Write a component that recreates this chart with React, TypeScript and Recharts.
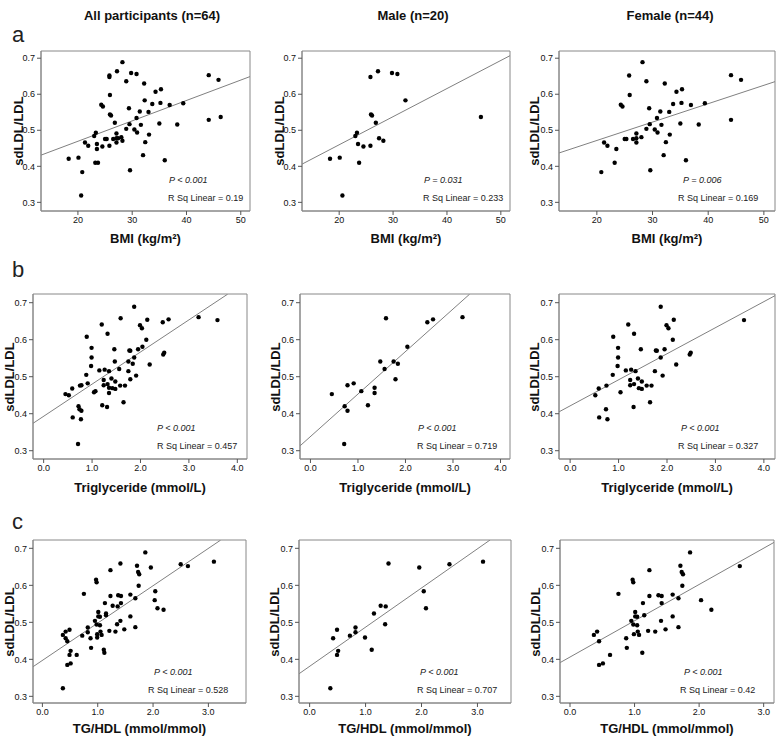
import React from 'react';
import { ScatterChart, Scatter, XAxis, YAxis, ReferenceLine, ReferenceArea } from 'recharts';

type Pt = [number, number];

// sdLDL/LDL against BMI (kg/m2)
const maleBmi: Pt[] = [
  [18.3, 0.421], [20.1, 0.424], [20.6, 0.319], [23.0, 0.484], [23.3, 0.493], [23.5, 0.462], [23.7, 0.41],
  [24.5, 0.455], [25.8, 0.648], [25.9, 0.544], [26.1, 0.541], [25.8, 0.457], [26.8, 0.521], [27.2, 0.664],
  [27.4, 0.478], [28.2, 0.471], [29.8, 0.659], [30.8, 0.656], [32.3, 0.583], [46.3, 0.537],
];
const femaleBmi: Pt[] = [
  [20.8, 0.384], [21.3, 0.466], [21.9, 0.457], [23.5, 0.448], [23.2, 0.41], [24.3, 0.571], [24.6, 0.566],
  [25.0, 0.476], [25.3, 0.476], [26.5, 0.476], [27.1, 0.491], [27.1, 0.478], [27.1, 0.466], [28.0, 0.481],
  [28.9, 0.504], [29.4, 0.561], [29.6, 0.389], [29.5, 0.517], [30.4, 0.502], [30.9, 0.494], [30.8, 0.534],
  [31.4, 0.552], [31.6, 0.515], [32.0, 0.431], [25.8, 0.652], [25.9, 0.598], [28.2, 0.689], [28.9, 0.636],
  [32.2, 0.63], [34.3, 0.607], [35.3, 0.614], [33.7, 0.573], [35.2, 0.576], [36.9, 0.57], [39.4, 0.575],
  [33.0, 0.551], [35.0, 0.519], [38.3, 0.516], [33.1, 0.488], [32.4, 0.467], [36.0, 0.417], [44.1, 0.653],
  [45.9, 0.64], [44.1, 0.529],
];

// sdLDL/LDL against triglyceride (mmol/L)
const maleTg: Pt[] = [
  [0.45, 0.453], [0.72, 0.42], [0.78, 0.477], [0.78, 0.408], [0.91, 0.482], [1.07, 0.461], [1.21, 0.423],
  [1.35, 0.47], [1.35, 0.456], [1.47, 0.541], [1.56, 0.521], [1.59, 0.658], [1.75, 0.541], [1.79, 0.493],
  [1.84, 0.535], [2.04, 0.581], [2.46, 0.647], [2.58, 0.655], [3.2, 0.661], [0.71, 0.318],
];
const femaleTg: Pt[] = [
  [0.52, 0.45], [0.59, 0.468], [0.6, 0.39], [0.74, 0.412], [0.75, 0.476], [0.77, 0.385], [0.88, 0.505],
  [0.89, 0.608], [0.99, 0.578], [0.99, 0.552], [0.98, 0.529], [1.04, 0.458], [1.15, 0.517], [1.2, 0.641],
  [1.24, 0.491], [1.24, 0.477], [1.26, 0.519], [1.32, 0.616], [1.32, 0.48], [1.35, 0.515], [1.4, 0.495],
  [1.42, 0.469], [1.46, 0.574], [1.48, 0.487], [1.48, 0.467], [1.31, 0.418], [1.58, 0.476], [1.65, 0.431],
  [1.68, 0.476], [1.75, 0.515], [1.77, 0.571], [1.79, 0.57], [1.87, 0.552], [1.87, 0.689], [1.91, 0.503],
  [1.95, 0.574], [1.99, 0.639], [2.03, 0.631], [2.12, 0.6], [2.14, 0.654], [2.19, 0.533], [2.47, 0.56],
  [2.49, 0.565], [3.59, 0.653],
];

// sdLDL/LDL against TG/HDL (mmol/mmol)
const maleTgHdl: Pt[] = [
  [3.1, 0.664], [1.41, 0.659], [1.96, 0.648], [2.5, 0.657], [2.04, 0.584], [2.08, 0.538], [1.27, 0.545],
  [1.36, 0.543], [1.15, 0.524], [1.35, 0.495], [0.82, 0.486], [0.82, 0.473], [0.49, 0.48], [0.42, 0.457],
  [0.72, 0.464], [0.99, 0.459], [1.11, 0.426], [0.51, 0.423], [0.49, 0.412], [0.37, 0.322],
];
const femaleTgHdl: Pt[] = [
  [0.37, 0.466], [0.42, 0.475], [0.45, 0.449], [0.45, 0.385], [0.51, 0.389], [0.62, 0.412], [0.75, 0.577],
  [0.87, 0.457], [0.88, 0.431], [0.95, 0.504], [0.97, 0.615], [0.98, 0.608], [0.98, 0.494], [0.99, 0.468],
  [1.01, 0.528], [1.01, 0.516], [1.04, 0.515], [1.04, 0.492], [1.05, 0.475], [1.07, 0.466], [1.13, 0.552],
  [1.12, 0.418], [1.15, 0.519], [1.21, 0.477], [1.23, 0.641], [1.23, 0.571], [1.32, 0.475], [1.37, 0.573],
  [1.42, 0.571], [1.42, 0.552], [1.41, 0.504], [1.48, 0.481], [1.59, 0.575], [1.59, 0.516], [1.68, 0.565],
  [1.68, 0.487], [1.71, 0.653], [1.73, 0.636], [1.75, 0.63], [1.74, 0.599], [1.86, 0.689], [2.03, 0.56],
  [2.19, 0.534], [2.63, 0.652],
];

// fitted lines, endpoints
const fitBmi: Pt[][] = [
  [[13.2, 0.431], [51.7, 0.649]],
  [[13.1, 0.406], [51.7, 0.707]],
  [[13.2, 0.437], [52.0, 0.635]],
];
const fitTg: Pt[][] = [
  [[-0.22, 0.374], [3.8, 0.723]],
  [[-0.22, 0.313], [3.35, 0.723]],
  [[-0.23, 0.405], [4.23, 0.719]],
];
const fitTgHdl: Pt[][] = [
  [[-0.17, 0.38], [3.22, 0.722]],
  [[-0.19, 0.361], [3.23, 0.723]],
  [[-0.155, 0.391], [3.16, 0.716]],
];

const columnTitles = ['All participants (n=64)', 'Male (n=20)', 'Female (n=44)'];
const rowLetters = ['a', 'b', 'c'];
const xTitles = ['BMI (kg/m\u00B2)', 'Triglyceride (mmol/L)', 'TG/HDL (mmol/mmol)'];
const yTitle = 'sdLDL/LDL';
const yTicks = [0.3, 0.4, 0.5, 0.6, 0.7];
const bmiTicks = [20, 30, 40, 50];
const tgTicks = [0, 1, 2, 3, 4];
const tgHdlTicks = [0, 1, 2, 3];
const pLabels = [
  ['P < 0.001', 'P = 0.031', 'P = 0.006'],
  ['P < 0.001', 'P < 0.001', 'P < 0.001'],
  ['P < 0.001', 'P < 0.001', 'P < 0.001'],
];
const rSqLabels = [
  ['0.19', '0.233', '0.169'],
  ['0.457', '0.719', '0.327'],
  ['0.528', '0.707', '0.42'],
];

const FONT = '"Liberation Sans", Arial, sans-serif';
const YW = 40;
const XH = 22;
const PAD = 3;

// plot frames in page pixels, per row: top, bottom, and [left, right] per column
const rowFrames = [
  { top: 51, bottom: 211, cols: [[41, 250], [302, 510], [559, 775]] },
  { top: 294, bottom: 459, cols: [[33, 247], [300, 510], [559, 775]] },
  { top: 540, bottom: 703, cols: [[33, 246], [299, 511], [560, 774]] },
];
const xDomains = [
  [[13.2, 51.7], [13.1, 51.7], [13.2, 52.0]],
  [[-0.22, 4.2], [-0.22, 4.2], [-0.23, 4.23]],
  [[-0.17, 3.68], [-0.19, 3.6], [-0.155, 3.16]],
];
const yDomains = [[0.276, 0.72], [0.2776, 0.7235], [0.282, 0.7225]];
const yTitleOffset = [[-23, -23, -25], [-24, -25, -25], [-24, -25, -25]];
const xTitleOffset = [27, 28, 25];
const statOffset = [[[81, 82], [86, 87], [92, 97]], [[90, 90], [92, 93], [94, 97]], [[92, 98], [91, 94], [90, 94]]];

const toRows = (pts: Pt[]) => pts.map(([x, y]) => ({ x, y }));

const Dot = (props: any) => <circle cx={props.cx} cy={props.cy} r={2.2} fill="#000" />;

interface PanelProps {
  row: number;
  col: number;
  points: Pt[];
  fit: Pt[];
  ticks: number[];
  decimals: number;
}

const Panel: React.FC<PanelProps> = ({ row, col, points, fit, ticks, decimals }) => {
  const f = rowFrames[row];
  const [left, right] = f.cols[col];
  const w = right - left;
  const h = f.bottom - f.top;
  const xd = xDomains[row][col];
  const yd = yDomains[row];
  const [pOff, rOff] = statOffset[row][col];
  const tickStyle = { fontSize: 9, fill: '#111', fontFamily: FONT };

  return (
    <>
      <div style={{ position: 'absolute', left: left - YW, top: f.top - PAD }}>
        <ScatterChart width={w + YW + PAD} height={h + PAD + XH} margin={{ top: PAD, right: PAD, left: 0, bottom: 0 }}>
          <XAxis
            type="number" dataKey="x" domain={xd} ticks={ticks} allowDataOverflow height={XH}
            tickSize={4} tick={tickStyle} stroke="#888" tickLine={{ stroke: '#555' }}
            tickFormatter={(v: number) => v.toFixed(decimals)}
          />
          <YAxis
            type="number" dataKey="y" domain={yd} ticks={yTicks} allowDataOverflow width={YW}
            tickSize={4} tick={tickStyle} stroke="#888" tickLine={{ stroke: '#555' }}
            tickFormatter={(v: number) => v.toFixed(1)}
          />
          <ReferenceArea x1={xd[0]} x2={xd[1]} y1={yd[0]} y2={yd[1]} fill="none" stroke="#888" strokeWidth={1} ifOverflow="visible" />
          <ReferenceLine
            segment={[{ x: fit[0][0], y: fit[0][1] }, { x: fit[1][0], y: fit[1][1] }]}
            stroke="#808080" strokeWidth={1} ifOverflow="hidden"
          />
          <Scatter data={toRows(points)} shape={Dot} isAnimationActive={false} />
        </ScatterChart>
      </div>
      <div style={{
        position: 'absolute', left: left + yTitleOffset[row][col], top: (f.top + f.bottom) / 2,
        transform: 'translate(-50%, -50%) rotate(-90deg)', whiteSpace: 'nowrap',
        fontSize: 13, fontWeight: 'bold', color: '#111',
      }}>{yTitle}</div>
      <div style={{
        position: 'absolute', left: (left + right) / 2, top: f.bottom + xTitleOffset[row],
        transform: 'translate(-50%, -50%)', whiteSpace: 'nowrap', fontSize: 13, fontWeight: 'bold', color: '#111',
      }}>{xTitles[row]}</div>
      <div style={{
        position: 'absolute', left: right - pOff, top: f.bottom - 31, transform: 'translateY(-50%)',
        whiteSpace: 'nowrap', fontSize: 9, fontStyle: 'italic', color: '#222',
      }}>{pLabels[row][col]}</div>
      <div style={{
        position: 'absolute', left: right - rOff, top: f.bottom - 13, transform: 'translateY(-50%)',
        whiteSpace: 'nowrap', fontSize: 9, color: '#222',
      }}>R Sq Linear = {rSqLabels[row][col]}</div>
    </>
  );
};

const rowsData = [
  { male: maleBmi, female: femaleBmi, fits: fitBmi, ticks: bmiTicks, decimals: 0 },
  { male: maleTg, female: femaleTg, fits: fitTg, ticks: tgTicks, decimals: 1 },
  { male: maleTgHdl, female: femaleTgHdl, fits: fitTgHdl, ticks: tgHdlTicks, decimals: 1 },
];

const titleCenters = [152, 413, 670];
const letterTops = [35, 270, 522];

export default function App() {
  return (
    <div style={{ position: 'absolute', left: 0, top: 0, width: 778, height: 738, background: '#fff', fontFamily: FONT, lineHeight: 1 }}>
      {columnTitles.map((t, i) => (
        <div key={t} style={{
          position: 'absolute', left: titleCenters[i], top: 15, transform: 'translate(-50%, -50%)',
          whiteSpace: 'nowrap', fontSize: 13, fontWeight: 'bold', color: '#111',
        }}>{t}</div>
      ))}
      {rowLetters.map((l, i) => (
        <div key={l} style={{ position: 'absolute', left: 12, top: letterTops[i], transform: 'translateY(-50%)', fontSize: 22, color: '#222' }}>{l}</div>
      ))}
      {rowsData.map((r, row) => (
        <React.Fragment key={row}>
          <Panel row={row} col={0} points={[...r.male, ...r.female]} fit={r.fits[0]} ticks={r.ticks} decimals={r.decimals} />
          <Panel row={row} col={1} points={r.male} fit={r.fits[1]} ticks={r.ticks} decimals={r.decimals} />
          <Panel row={row} col={2} points={r.female} fit={r.fits[2]} ticks={r.ticks} decimals={r.decimals} />
        </React.Fragment>
      ))}
    </div>
  );
}
